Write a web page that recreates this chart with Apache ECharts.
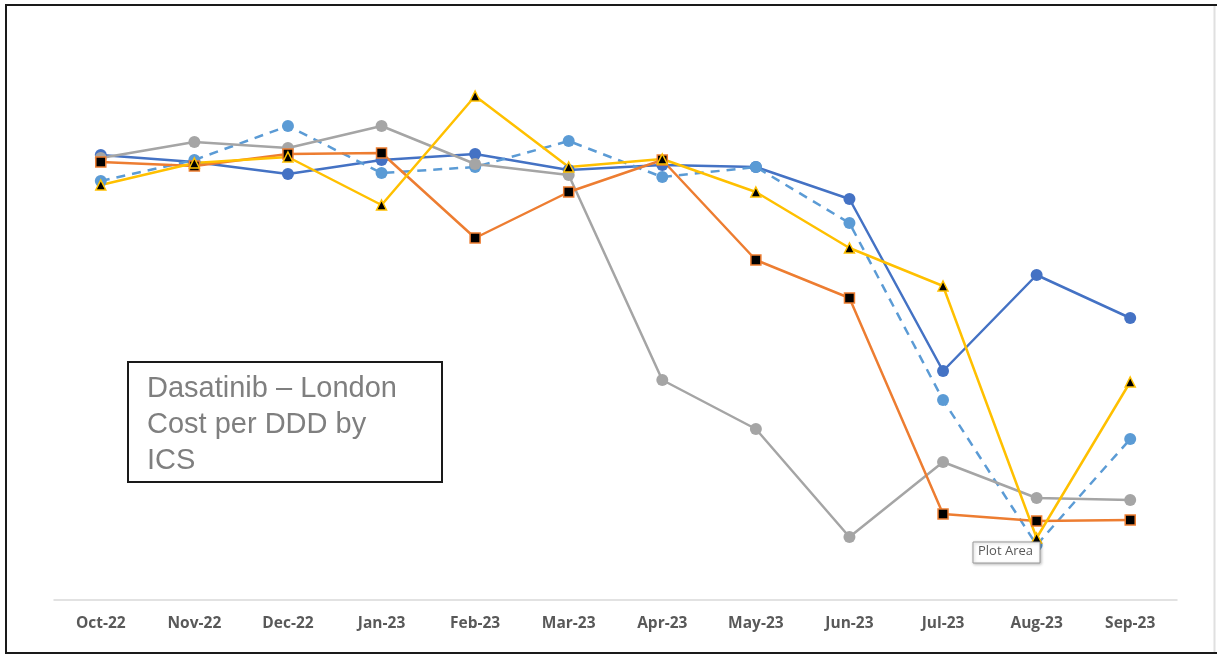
<!DOCTYPE html>
<html>
<head>
<meta charset="utf-8">
<script src="https://cdn.jsdelivr.net/npm/echarts@6/dist/echarts.min.js"></script>
<style>
  html, body { margin: 0; padding: 0; background: #fff; }
  #chart { width: 1217px; height: 655px; }
</style>
</head>
<body>
<div id="chart"></div>
<script>
// Monthly cost per DDD by ICS (relative units)
const months = ['Oct-22','Nov-22','Dec-22','Jan-23','Feb-23','Mar-23','Apr-23','May-23','Jun-23','Jul-23','Aug-23','Sep-23'];

const icsA = [44.5, 43.8, 42.6, 44.0, 44.6, 43.0, 43.5, 43.3, 40.1, 22.9, 32.5, 28.2];
const icsB = [41.9, 44.0, 47.4, 42.7, 43.3, 45.9, 42.3, 43.3, 37.7, 20.0, 5.5, 16.1];
const icsC = [44.2, 45.8, 45.2, 47.4, 43.6, 42.5, 22.0, 17.1, 6.3, 13.8, 10.2, 10.0];
const icsD = [43.8, 43.4, 44.6, 44.7, 36.2, 40.8, 44.0, 34.0, 30.2, 8.6, 7.9, 8.0];
const icsE = [41.5, 43.7, 44.3, 39.5, 50.4, 43.3, 44.1, 40.8, 35.2, 31.4, 6.2, 21.8];

const chartTitle = ['Dasatinib \u2013 London', 'Cost per DDD by', 'ICS'];
const hoverNote = 'Plot Area';

const chart = echarts.init(document.getElementById('chart'), null, { renderer: 'canvas' });

function line(name, data, color, opts) {
  return Object.assign({
    name: name,
    type: 'line',
    data: data,
    symbol: 'circle',
    symbolSize: 12,
    lineStyle: { color: color, width: 2.5 },
    itemStyle: { color: color, borderWidth: 0 },
    animation: false,
    z: 3
  }, opts || {});
}

chart.setOption({
  animation: false,
  backgroundColor: '#ffffff',
  grid: { left: 54, right: 40, top: 40, bottom: 55 },
  xAxis: {
    type: 'category',
    data: months,
    boundaryGap: true,
    axisLine: { show: true, lineStyle: { color: '#d9d9d9', width: 1.5 } },
    axisTick: { show: false },
    axisLabel: {
      color: '#595959',
      fontFamily: 'Open Sans, Liberation Sans, sans-serif',
      fontWeight: 'bold',
      fontSize: 15.5,
      margin: 16
    },
    splitLine: { show: false }
  },
  yAxis: {
    type: 'value',
    min: 0,
    max: 56,
    show: false
  },
  series: [
    line('ICS A', icsA, '#4472c4'),
    line('ICS B', icsB, '#5b9bd5', { lineStyle: { color: '#5b9bd5', width: 2.5, type: [9, 7] } }),
    line('ICS C', icsC, '#a5a5a5'),
    line('ICS D', icsD, '#ed7d31', {
      symbol: 'rect',
      symbolSize: 10,
      itemStyle: { color: '#000000', borderColor: '#ed7d31', borderWidth: 1.5 }
    }),
    line('ICS E', icsE, '#ffc000', {
      symbol: 'triangle',
      symbolSize: 10,
      itemStyle: { color: '#000000', borderColor: '#ffc000', borderWidth: 1.5 }
    })
  ],
  graphic: [
    // outer frame
    {
      type: 'polyline',
      shape: { points: [[1217, 5], [6, 5], [6, 653], [1217, 653]] },
      style: { stroke: '#1a1a1a', lineWidth: 2, fill: null },
      z: 10
    },
    {
      type: 'line',
      shape: { x1: 1214.5, y1: 6, x2: 1214.5, y2: 652 },
      style: { stroke: '#e0e0e0', lineWidth: 2 },
      z: 10
    },
    // title box
    {
      type: 'rect',
      shape: { x: 128, y: 362, width: 314, height: 120 },
      style: { fill: '#ffffff', stroke: '#1a1a1a', lineWidth: 2 },
      z: 20
    },
    {
      type: 'text',
      left: 147,
      top: 371,
      style: {
        text: chartTitle.join('\n'),
        font: '29px "Liberation Sans", Arial, sans-serif',
        lineHeight: 36,
        fill: '#7f7f7f'
      },
      z: 21
    },
    // hover note
    {
      type: 'rect',
      shape: { x: 973, y: 542, width: 67, height: 21 },
      style: {
        fill: '#ffffff', stroke: '#9a9a9a', lineWidth: 1,
        shadowBlur: 3, shadowColor: 'rgba(0,0,0,0.25)', shadowOffsetX: 1, shadowOffsetY: 1
      },
      z: 30
    },
    {
      type: 'text',
      left: 978,
      top: 545,
      style: {
        text: hoverNote,
        font: '13px "Open Sans", "DejaVu Sans", sans-serif',
        fill: '#595959'
      },
      z: 31
    }
  ]
});
</script>
</body>
</html>
